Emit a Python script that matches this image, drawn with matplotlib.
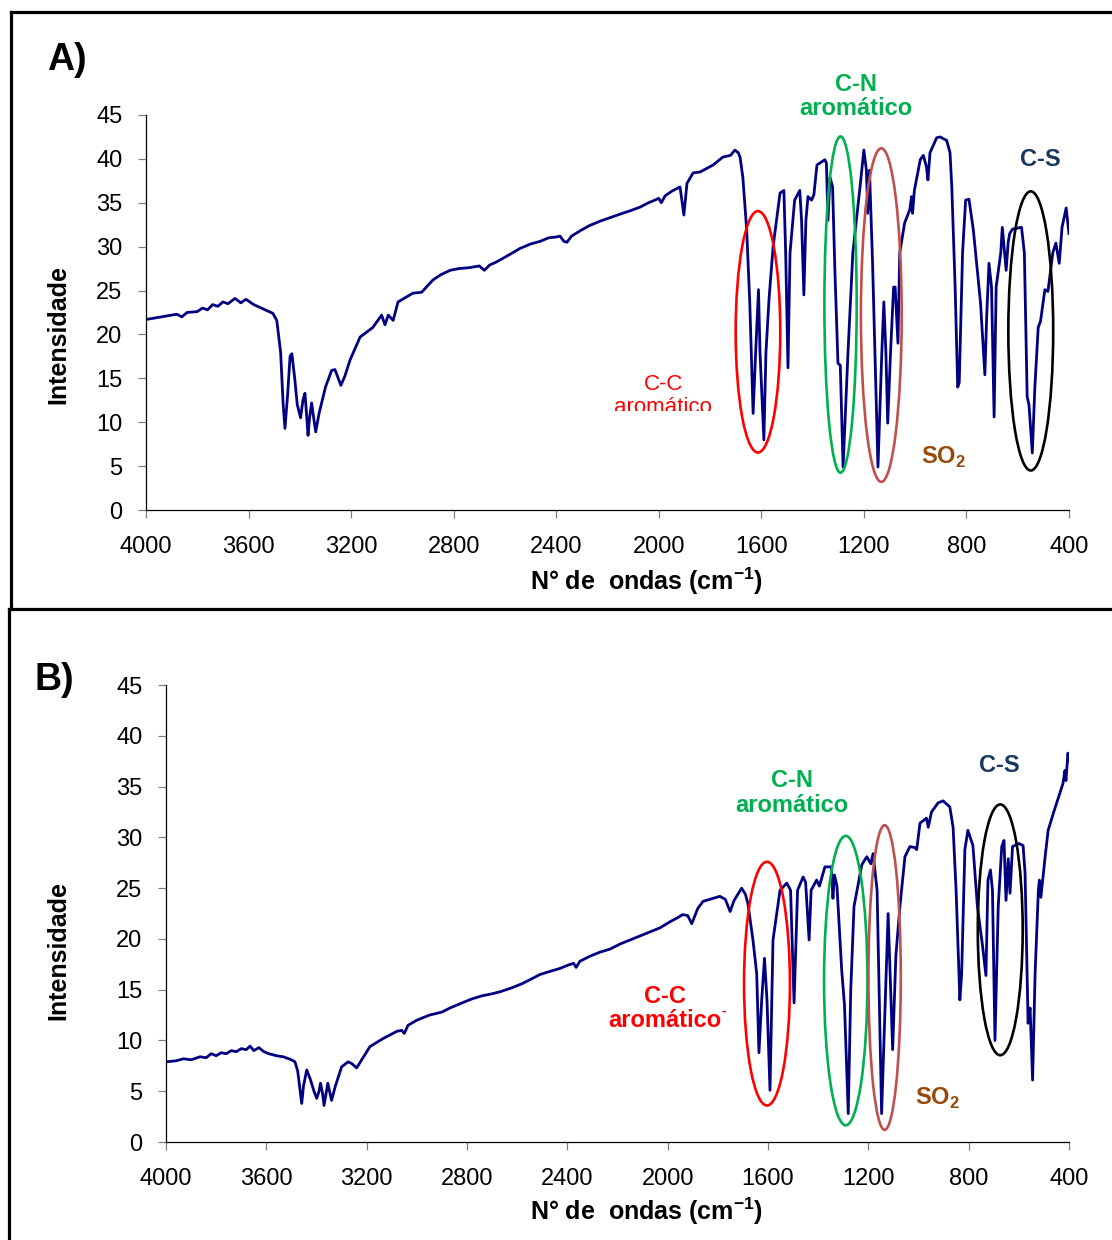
import matplotlib
matplotlib.use("Agg")
import matplotlib.pyplot as plt
from matplotlib.patches import Ellipse, Rectangle
from matplotlib.lines import Line2D

plt.rcParams["font.family"] = ["Liberation Sans", "DejaVu Sans"]
plt.rcParams["mathtext.fontset"] = "custom"
plt.rcParams["mathtext.rm"] = "Liberation Sans"
plt.rcParams["mathtext.bf"] = "Liberation Sans:bold"

# espectro A (numero de onda, intensidade)
wn_a = [4000, 3960, 3920, 3880, 3860, 3840, 3800, 3780, 3760, 3740, 3720, 3700, 3680,
        3653, 3630, 3610, 3580, 3550, 3520, 3505, 3490, 3475, 3465, 3458, 3448, 3438,
        3431, 3420, 3410, 3397, 3388, 3380, 3374, 3368, 3362, 3354, 3346, 3338, 3325,
        3300, 3276, 3263, 3250, 3240, 3225, 3204, 3165, 3115, 3081, 3068, 3055, 3036,
        3017, 2959, 2925, 2881, 2850, 2814, 2780, 2740, 2700, 2680, 2660, 2630, 2600,
        2570, 2541, 2500, 2463, 2430, 2400, 2385, 2370, 2358, 2340, 2307, 2270, 2229,
        2190, 2151, 2110, 2073, 2040, 2015, 2000, 1990, 1975, 1950,
        1917, 1902, 1890, 1866, 1839, 1788, 1750, 1720, 1703,
        1690, 1683, 1672, 1657, 1645, 1632, 1622, 1611, 1605, 1590, 1582, 1570, 1554,
        1527, 1512, 1505, 1496, 1488, 1470, 1450, 1443, 1434, 1426, 1418, 1404, 1395,
        1383, 1352, 1346, 1340, 1332, 1322, 1313, 1301, 1292, 1281, 1262, 1243, 1215,
        1200, 1190, 1185, 1178, 1166, 1145, 1130, 1122, 1114, 1107, 1096, 1084, 1078,
        1067, 1060, 1041, 1021, 1014, 1010, 1003, 980, 968, 956, 950, 942, 916, 903,
        877, 864, 857, 844, 834, 828, 815, 803, 790, 773, 745, 728, 721, 712, 702, 692,
        684, 666, 660, 645, 637, 631, 620, 585, 574, 563, 556, 543, 533, 520, 511, 494,
        482, 463, 451, 438, 427, 411, 400]
int_a = [21.7, 21.9, 22.1, 22.3, 22.0, 22.5, 22.6, 23.0, 22.8, 23.4, 23.2, 23.7, 23.5,
         24.1, 23.6, 24.0, 23.4, 23.0, 22.6, 22.4, 21.6, 18.0, 12.0, 9.3, 13.0, 17.5,
         17.8, 15.0, 12.0, 10.5, 12.5, 13.3, 11.0, 8.5, 10.5, 12.2, 10.5, 8.9, 11.0,
         14.0, 15.9, 16.0, 15.0, 14.2, 15.2, 17.1, 19.7, 20.8, 22.2, 21.1, 22.2, 21.6,
         23.7, 24.7, 24.8, 26.2, 26.8, 27.3, 27.5, 27.6, 27.8, 27.3, 27.9, 28.3, 28.8,
         29.3, 29.8, 30.3, 30.6, 31.0, 31.1, 31.2, 30.6, 30.5, 31.2, 31.8, 32.4, 32.9,
         33.3, 33.7, 34.1, 34.5, 35.0, 35.3, 35.5, 35.0, 35.8, 36.3,
         36.8, 33.6, 37.2, 38.4, 38.5, 39.3, 40.2, 40.4, 41.0,
         40.7, 40.2, 37.9, 31.9, 23.6, 11.0, 18.0, 25.1, 17.9, 8.0, 17.9, 24.0, 30.0,
         36.1, 36.4, 29.3, 16.2, 29.3, 35.3, 36.4, 33.0, 24.5, 33.0, 35.7, 35.3, 35.9,
         39.3, 39.9, 39.5, 33.0, 37.9, 36.8, 27.3, 16.7, 16.5, 4.9, 17.9, 29.3, 36.8,
         41.0, 38.7, 33.8, 38.7, 28.1, 4.9, 17.9, 23.7, 17.9, 9.9, 17.9, 25.4, 25.4,
         19.0, 29.3, 32.7, 34.2, 35.7, 33.8, 36.4, 39.9, 40.4, 39.1, 37.6, 40.7, 42.4, 42.5,
         42.1, 40.7, 36.8, 25.4, 14.0, 14.5, 29.3, 35.3, 35.4, 31.9, 23.6, 15.4, 22.0, 28.1, 25.4, 10.6,
         25.4, 29.3, 32.2, 27.3, 30.5, 31.5, 32.0, 32.2, 29.3, 12.9, 12.0, 6.5, 14.0, 20.8, 21.5, 25.1,
         24.9, 29.3, 30.4, 28.1, 32.2, 34.4, 31.5]

# espectro B
wn_b = [4000, 3960, 3930, 3900, 3864, 3840, 3820, 3800, 3780, 3760, 3740, 3720, 3700,
        3680, 3665, 3650, 3630, 3610, 3590, 3560, 3533, 3500, 3486, 3475, 3465, 3459,
        3452, 3439, 3425, 3410, 3399, 3390, 3384, 3376, 3370, 3362, 3355, 3348, 3340,
        3325, 3300, 3274, 3258, 3240, 3215, 3187, 3134, 3080, 3060, 3050, 3035, 3000,
        2950, 2900, 2868, 2820, 2780, 2740, 2700, 2668, 2620, 2580, 2540, 2509, 2470,
        2429, 2400, 2375, 2365, 2350, 2310, 2270, 2230, 2190, 2150, 2110, 2070, 2030,
        1990, 1960, 1940, 1920, 1904, 1880, 1859,
        1792, 1770, 1751, 1735, 1705, 1690, 1680, 1660, 1645, 1636, 1625, 1614, 1604,
        1592, 1580, 1552, 1525, 1510, 1496, 1482, 1460, 1450, 1436, 1428, 1406, 1395,
        1373, 1347, 1341, 1335, 1325, 1306, 1295, 1280, 1270, 1257, 1226, 1206, 1190,
        1181, 1165, 1147, 1121, 1103, 1090, 1074, 1054, 1034, 1015, 1007, 994, 968, 961,
        948, 922, 902, 875, 862, 850, 835, 828, 815, 803, 783, 765, 744, 731, 723, 713,
        705, 695, 682, 668, 659, 651, 642, 635, 625, 600, 583, 575, 563, 555, 545, 535,
        522, 518, 512, 495, 483, 462, 436, 424, 416, 412, 404, 400]
int_b = [7.9, 8.0, 8.2, 8.1, 8.4, 8.3, 8.7, 8.5, 8.8, 8.7, 9.0, 8.9, 9.2,
         9.1, 9.45, 9.0, 9.3, 8.9, 8.7, 8.5, 8.4, 8.1, 7.9, 7.0, 5.0, 3.8,
         5.5, 7.1, 6.2, 5.0, 4.3, 5.0, 5.8, 4.8, 3.6, 4.8, 5.8, 5.0, 4.1,
         5.5, 7.4, 7.9, 7.7, 7.3, 8.3, 9.4, 10.2, 10.9, 11.0, 10.7, 11.5, 12.0,
         12.5, 12.8, 13.2, 13.7, 14.1, 14.4, 14.6, 14.8, 15.2, 15.6, 16.1, 16.5, 16.8,
         17.1, 17.4, 17.6, 17.2, 17.8, 18.3, 18.7, 19.0, 19.5, 19.9, 20.3, 20.7, 21.1,
         21.7, 22.1, 22.4, 22.3, 21.5, 23.0, 23.7,
         24.2, 23.9, 22.7, 23.8, 25.0, 24.4, 23.5, 19.9, 16.6, 8.8, 14.0, 18.1, 14.0,
         5.1, 19.9, 24.8, 25.5, 24.8, 13.7, 24.8, 26.1, 25.6, 19.9, 24.8, 25.8, 25.2,
         27.1, 27.1, 24.0, 26.3, 25.2, 16.9, 13.5, 2.8, 15.0, 23.2, 27.3, 28.1, 27.4,
         28.4, 24.8, 2.8, 22.5, 9.1, 18.4, 23.2, 28.1, 29.1, 29.0, 28.8, 31.4, 31.9, 31.0,
         32.5, 33.4, 33.6, 33.0, 31.0, 24.8, 14.0, 16.5, 28.8, 30.7, 29.2, 23.2, 19.2, 16.4, 25.8, 26.8,
         24.8, 10.0, 23.2, 29.1, 29.7, 23.8, 27.9, 24.5, 29.1, 29.4, 29.2, 26.5, 11.7, 13.2, 6.1, 16.6,
         24.8, 25.8, 24.1, 28.1, 30.7, 32.4, 34.4, 35.3, 36.6, 35.6, 38.3, 37.5]

x_ticks = list(range(4000, 399, -400))
y_ticks = list(range(0, 46, 5))

# elipses: (centro wn, centro intensidade, largura, altura, cor)
ellipses_a = [(1613, 20.3, 174, 27.5, "#ff0000"),
              (1291, 23.4, 126, 38.3, "#00b050"),
              (1132, 22.2, 159, 38.0, "#c0504d"),
              (549, 20.4, 175, 31.8, "#000000")]
ellipses_b = [(1604, 15.6, 183, 24.0, "#ff0000"),
              (1290, 15.9, 173, 28.5, "#00b050"),
              (1135, 16.2, 129, 30.0, "#c0504d"),
              (674, 20.9, 179, 24.7, "#000000")]

GREEN = "#00b050"
NAVY = "#17375e"
BROWN = "#984807"
TICK_FS = 17
LABEL_FS = 18
NOTE_FS = 17

fig = plt.figure(figsize=(11.12, 12.4), dpi=100)

def setup_axes(ax, wn, inten, ellipses, label_x, label_y):
    ax.plot(wn, inten, color="#000080", lw=2.0, zorder=2)
    ax.set_xlim(4000, 400)
    ax.set_ylim(0, 45)
    ax.set_xticks(x_ticks)
    ax.set_yticks(y_ticks)
    for s in ("top", "right"):
        ax.spines[s].set_visible(False)
    for s in ("left", "bottom"):
        ax.spines[s].set_linewidth(0.9)
    ax.tick_params(axis="y", direction="out", length=6, width=0.9, color="#808080",
                   labelsize=TICK_FS, pad=11)
    ax.tick_params(axis="x", direction="out", length=6, width=0.9, color="#808080",
                   labelsize=TICK_FS, pad=13)
    ax.set_ylabel("Intensidade", fontsize=LABEL_FS, fontweight="bold")
    ax.yaxis.set_label_coords(*label_y)
    ax.set_xlabel(r"N° de  ondas (cm$^{\mathbf{-1}}$)", fontsize=LABEL_FS, fontweight="bold")
    ax.xaxis.set_label_coords(*label_x)
    for cx, cy, w, h, c in ellipses:
        ax.add_patch(Ellipse((cx, cy), w, h, fill=False, edgecolor=c, lw=1.9,
                             zorder=3, clip_on=False))

ax_a = fig.add_axes([0.1313, 0.5887, 0.8300, 0.3186])
setup_axes(ax_a, wn_a, int_a, ellipses_a, (0.542, -0.140), (-0.082, 0.443))
ax_a.text(1231, 47.1, "C-N\naromático", color=GREEN, fontsize=NOTE_FS, fontweight="bold",
          ha="center", va="center", linespacing=1.1)
ax_a.text(513, 39.9, "C-S", color=NAVY, fontsize=NOTE_FS, fontweight="bold",
          ha="center", va="center")
ax_a.text(891, 6.0, r"SO$_{\mathbf{2}}$", color=BROWN, fontsize=NOTE_FS, fontweight="bold",
          ha="center", va="center")
# rotulo C-C cortado na parte de baixo
cc = ax_a.text(1983, 13.0, "C-C\naromático", color="#ff0000", fontsize=16,
               ha="center", va="center", linespacing=1.1)
cc.set_clip_path(Rectangle((4000, 11.3), -3600, 40, transform=ax_a.transData))
cc.set_clip_on(True)

ax_b = fig.add_axes([0.1493, 0.0790, 0.8120, 0.3685])
setup_axes(ax_b, wn_b, int_b, ellipses_b, (0.532, -0.118), (-0.106, 0.42))
ax_b.text(1504, 34.4, "C-N\naromático", color=GREEN, fontsize=NOTE_FS, fontweight="bold",
          ha="center", va="center", linespacing=1.1)
ax_b.text(679, 37.1, "C-S", color=NAVY, fontsize=NOTE_FS, fontweight="bold",
          ha="center", va="center")
ax_b.text(926, 4.3, r"SO$_{\mathbf{2}}$", color=BROWN, fontsize=NOTE_FS, fontweight="bold",
          ha="center", va="center")
ax_b.text(2010, 13.15, "C-C\naromático", color="#ff0000", fontsize=NOTE_FS, fontweight="bold",
          ha="center", va="center", linespacing=1.1)
ax_b.text(1775, 12.9, "-", color="#ff0000", fontsize=10, fontweight="bold",
          ha="center", va="center")

fig.text(0.060, 0.952, "A)", fontsize=27, fontweight="bold", ha="center", va="center")
fig.text(0.049, 0.452, "B)", fontsize=27, fontweight="bold", ha="center", va="center")

# molduras dos paineis
frame_kw = dict(color="black", lw=2.3, transform=fig.transFigure)
fig.add_artist(Line2D([0.0099, 1.0], [0.9903, 0.9903], **frame_kw))
fig.add_artist(Line2D([0.0099, 0.0099], [0.9903, 0.5089], **frame_kw))
fig.add_artist(Line2D([0.0085, 1.0], [0.5089, 0.5089], **frame_kw))
fig.add_artist(Line2D([0.0085, 0.0085], [0.5089, 0.0], **frame_kw))

fig.savefig("out.png", dpi=100)
